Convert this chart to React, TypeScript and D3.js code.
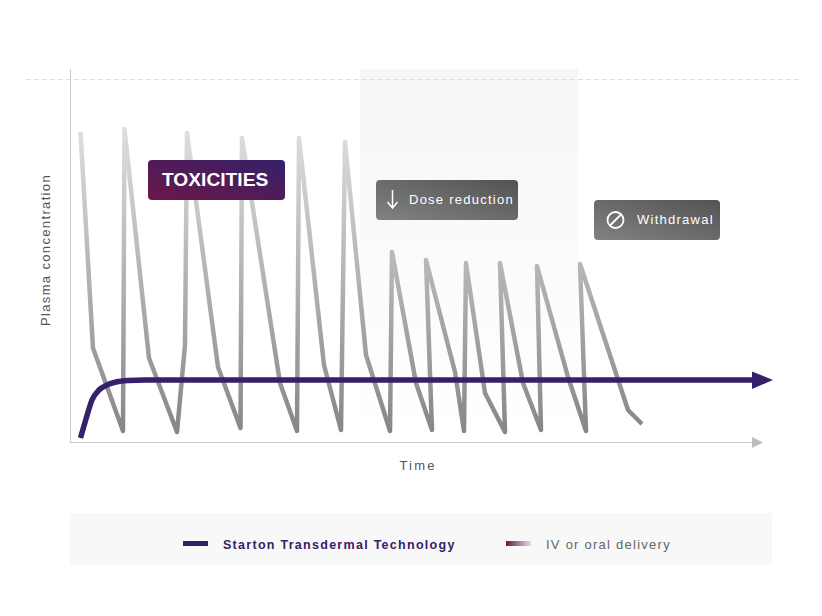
import React, { useEffect, useRef } from 'react';
import * as d3 from 'd3';

// time / concentration (arbitrary units)
const pkTime = [10.5, 23, 53, 54.5, 79, 107, 115, 117, 148, 170.5, 172, 210, 227, 229, 254, 271, 275, 296, 320, 322, 346, 362, 356, 385, 394, 396, 415, 435, 430, 453, 471, 467, 498, 516, 510, 558, 572];
const pkConc = [310, 94, 11, 313, 84, 10, 97, 309, 75, 14, 304, 59, 11, 304, 77, 12, 300, 87, 11, 190, 59, 12, 182, 70, 11, 179, 49, 10, 179, 59, 12, 176, 65, 11, 178, 32, 18];
const deliveryTime = [10.5, 16, 22, 29, 37, 46, 58, 75, 95, 130, 682];
const deliveryConc = [4, 23, 42, 52, 57, 60, 61.5, 62, 62, 62, 62];
const legendLabels = ['Starton Transdermal Technology', 'IV or oral delivery'];
const axisLabels = ['Time', 'Plasma concentration'];
const calloutLabels = ['TOXICITIES', 'Dose reduction', 'Withdrawal'];

const font = '"Liberation Sans", Arial, sans-serif';

export default function App() {
  const svgRef = useRef<SVGSVGElement>(null);

  useEffect(() => {
    if (!svgRef.current) return;
    const svg = d3.select(svgRef.current);
    svg.selectAll('*').remove();

    const x = d3.scaleLinear().domain([0, 700]).range([70, 770]);
    const y = d3.scaleLinear().domain([0, 373]).range([442, 69]);

    const defs = svg.append('defs');
    const gradient = (id: string, x1: number, y1: number, x2: number, y2: number, stops: string[], user = false) => {
      const g = defs.append('linearGradient').attr('id', id)
        .attr('x1', x1).attr('y1', y1).attr('x2', x2).attr('y2', y2);
      if (user) g.attr('gradientUnits', 'userSpaceOnUse');
      stops.forEach((c, i) => g.append('stop').attr('offset', i / (stops.length - 1)).attr('stop-color', c));
    };
    gradient('pk', 0, 128, 0, 434, ['#dedede', '#868686'], true);
    gradient('band', 0, 0, 0, 1, ['#f6f6f6', '#ffffff']);
    gradient('tox', 0, 1, 1, 0, ['#6b1747', '#35206b']);
    gradient('grey', 0, 1, 1, 0, ['#828282', '#535353']);
    gradient('iv', 0, 0, 1, 0, ['#6b1747', '#e4dcec']);

    // shaded dose reduction period
    svg.append('rect').attr('x', 360).attr('y', 69).attr('width', 218).attr('height', 373).attr('fill', 'url(#band)');

    // dashed toxicity threshold
    svg.append('line').attr('x1', 26).attr('x2', 803).attr('y1', 79.5).attr('y2', 79.5)
      .attr('stroke', '#dddddd').attr('stroke-dasharray', '5,3');

    // axes
    const axisColor = '#c8c8c8';
    const xAxisScale = d3.scaleLinear().domain([0, 683]).range([70, 753]);
    svg.append('g').attr('transform', `translate(0,${y(0)})`)
      .call(d3.axisBottom(xAxisScale).tickValues([]).tickSizeOuter(0))
      .select('.domain').attr('stroke', axisColor);
    svg.append('g').attr('transform', 'translate(70,0)')
      .call(d3.axisLeft(y).tickValues([]).tickSizeOuter(0))
      .select('.domain').attr('stroke', axisColor);
    svg.append('path').attr('d', 'M752,437L763,442.5L752,448Z').attr('fill', '#bdbdbd');

    const line = d3.line<number>()
      .x((_, i) => x(pkTime[i]))
      .y(d => y(d));

    svg.append('path')
      .datum(pkConc)
      .attr('fill', 'none')
      .attr('stroke', 'url(#pk)')
      .attr('stroke-width', 4.5)
      .attr('stroke-linejoin', 'round')
      .attr('d', line);

    const deliveryLine = d3.line<number>()
      .x((_, i) => x(deliveryTime[i]))
      .y(d => y(d))
      .curve(d3.curveMonotoneX);

    svg.append('path')
      .datum(deliveryConc)
      .attr('fill', 'none')
      .attr('stroke', '#35206b')
      .attr('stroke-width', 5.5)
      .attr('d', deliveryLine);
    svg.append('path').attr('d', 'M752,371.5L773,380L752,389Z').attr('fill', '#35206b');

    // axis titles
    svg.append('text').attr('x', 418).attr('y', 470).attr('text-anchor', 'middle')
      .attr('font-size', 13).attr('letter-spacing', 2.2).attr('fill', '#555').text(axisLabels[0]);
    svg.append('text').attr('transform', 'translate(50,250) rotate(-90)').attr('text-anchor', 'middle')
      .attr('font-size', 13).attr('letter-spacing', 1.35).attr('fill', '#555').text(axisLabels[1]);

    // callouts
    const box = (bx: number, by: number, w: number, fill: string) =>
      svg.append('rect').attr('x', bx).attr('y', by).attr('width', w).attr('height', 40).attr('rx', 4).attr('fill', fill);

    box(148, 160, 137, 'url(#tox)');
    svg.append('text').attr('x', 162).attr('y', 186).attr('font-size', 19.2).attr('font-weight', 700)
      .attr('fill', '#fff').text(calloutLabels[0]);

    box(376, 180, 142, 'url(#grey)');
    svg.append('path').attr('d', 'M392.5,190V207M387.5,202L392.5,208L397.5,202')
      .attr('fill', 'none').attr('stroke', '#fff').attr('stroke-width', 1.5);
    svg.append('text').attr('x', 409).attr('y', 204).attr('font-size', 13).attr('letter-spacing', 1.25)
      .attr('fill', '#fff').text(calloutLabels[1]);

    box(594, 200, 126, 'url(#grey)');
    svg.append('circle').attr('cx', 615.5).attr('cy', 220).attr('r', 8)
      .attr('fill', 'none').attr('stroke', '#fff').attr('stroke-width', 1.8);
    svg.append('line').attr('x1', 610).attr('y1', 225.5).attr('x2', 621).attr('y2', 214.5)
      .attr('stroke', '#fff').attr('stroke-width', 1.8);
    svg.append('text').attr('x', 637).attr('y', 224).attr('font-size', 13).attr('letter-spacing', 1.25)
      .attr('fill', '#fff').text(calloutLabels[2]);

    // legend
    svg.append('rect').attr('x', 70).attr('y', 513).attr('width', 702).attr('height', 52).attr('fill', '#f8f8f8');
    svg.append('rect').attr('x', 183).attr('y', 541).attr('width', 25).attr('height', 5).attr('fill', '#35206b');
    svg.append('text').attr('x', 223).attr('y', 549).attr('font-size', 12.5).attr('font-weight', 700)
      .attr('letter-spacing', 1.28).attr('fill', '#35206b').text(legendLabels[0]);
    svg.append('rect').attr('x', 506).attr('y', 541).attr('width', 25).attr('height', 5).attr('fill', 'url(#iv)');
    svg.append('text').attr('x', 546).attr('y', 549).attr('font-size', 13).attr('letter-spacing', 1.25)
      .attr('fill', '#666').text(legendLabels[1]);
  }, []);

  return (
    <svg
      ref={svgRef}
      width={822}
      height={616}
      fontFamily={font}
      style={{ position: 'absolute', left: 0, top: 0, background: '#fff' }}
    />
  );
}
